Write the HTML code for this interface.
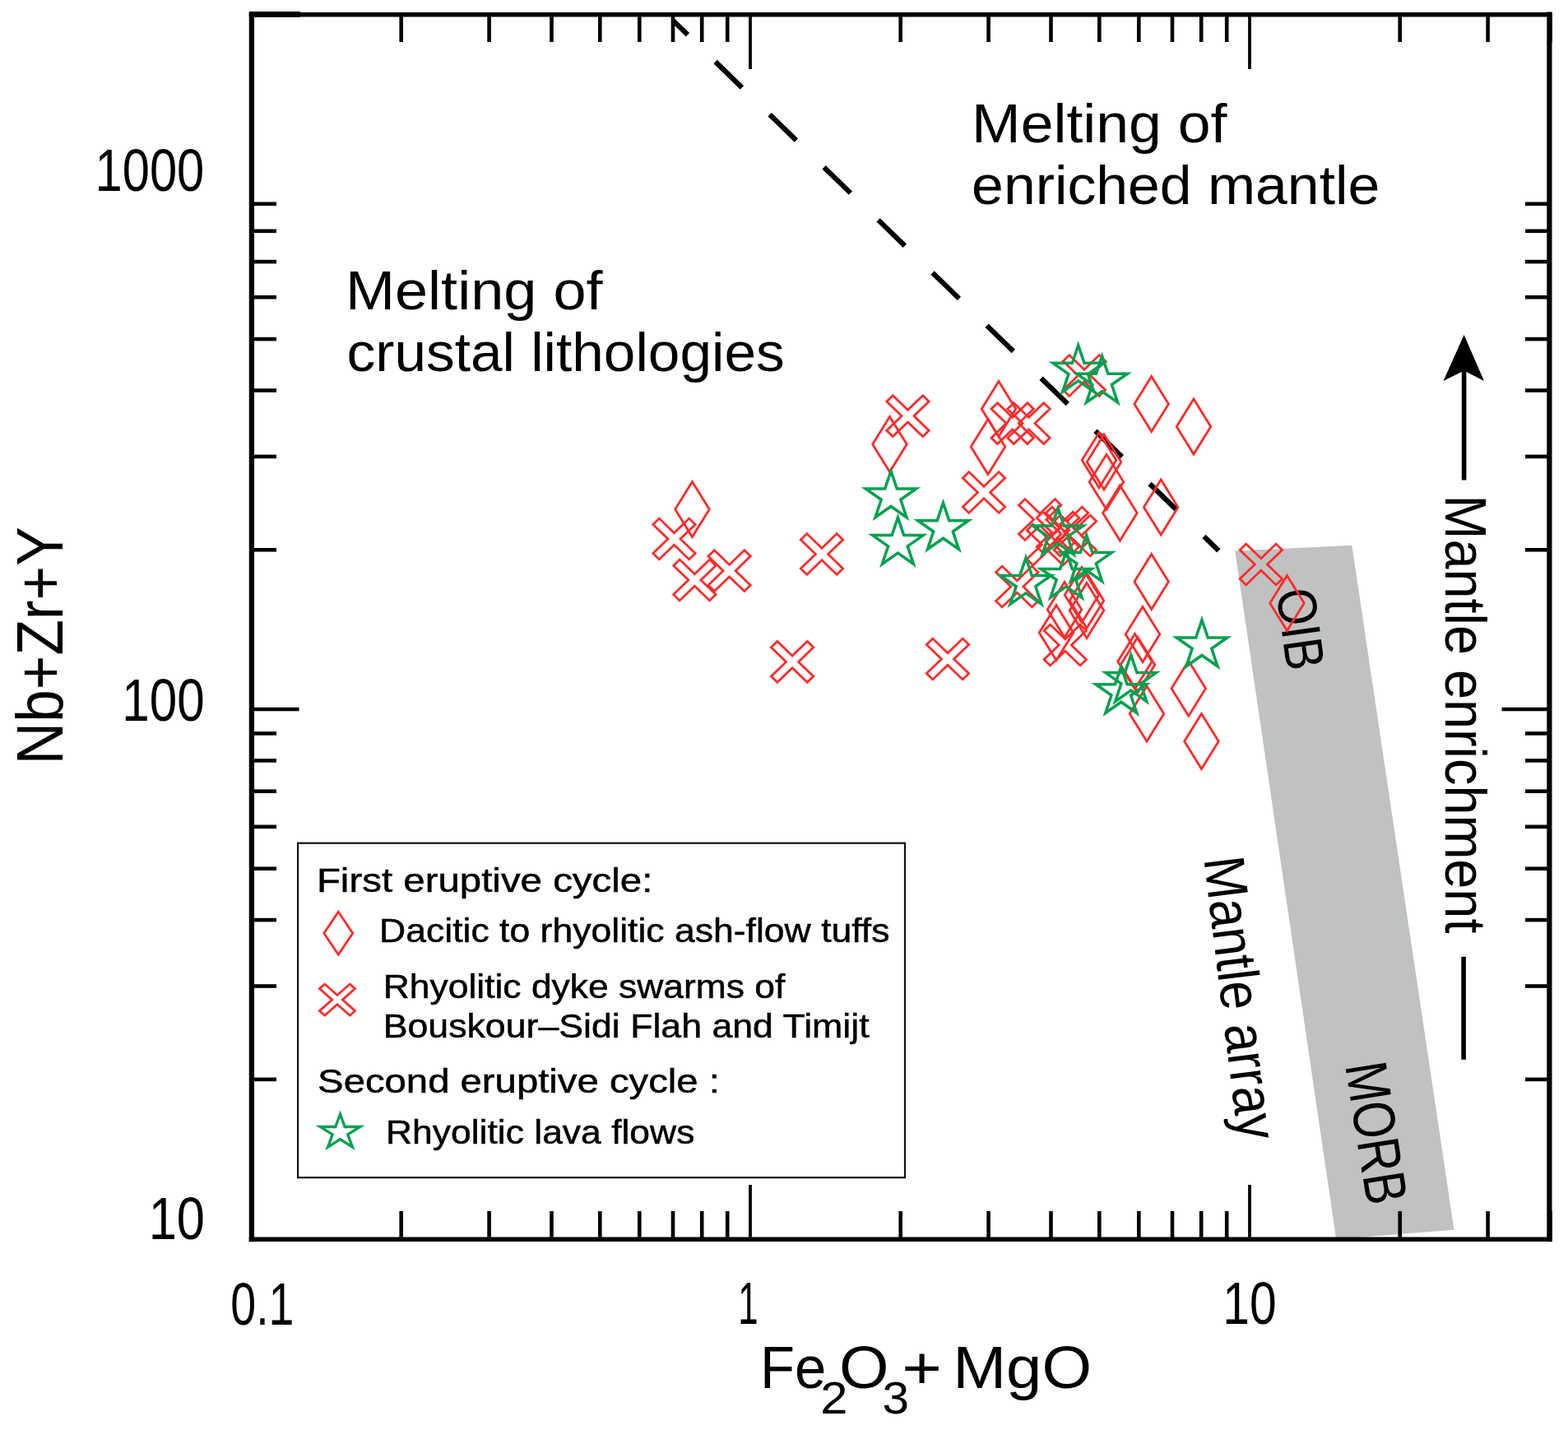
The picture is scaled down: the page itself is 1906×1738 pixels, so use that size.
<!DOCTYPE html><html><head><meta charset="utf-8"><title>Nb+Zr+Y vs Fe2O3+MgO</title><style>html,body{margin:0;padding:0;background:#fff;overflow:hidden}svg{display:block}text{font-family:"Liberation Sans",Arial,sans-serif;fill:#000}</style></head><body>
<svg width="1906" height="1738" viewBox="0 0 1906 1738">
<rect width="1906" height="1738" fill="#fff"/>
<polygon points="1501.2,669.5 1643.3,662.8 1767.5,1494.8 1624.2,1506" fill="#bfc2c1"/>
<text x="1181.1" y="172.8" font-size="67" textLength="310.4" lengthAdjust="spacingAndGlyphs">Melting of</text>
<text x="1181.1" y="247.8" font-size="67" textLength="496.2" lengthAdjust="spacingAndGlyphs">enriched mantle</text>
<text x="419.9" y="376.4" font-size="67" textLength="312.7" lengthAdjust="spacingAndGlyphs">Melting of</text>
<text x="421.6" y="451" font-size="67" textLength="532.1" lengthAdjust="spacingAndGlyphs">crustal lithologies</text>
<g transform="translate(1756.8,0) rotate(90)"><text x="601.6" y="0" font-size="70" textLength="532.8" lengthAdjust="spacingAndGlyphs">Mantle enrichment</text></g>
<g transform="translate(1463.8,1049) rotate(83)"><text x="-5.3" y="0" font-size="70" textLength="346.4" lengthAdjust="spacingAndGlyphs">Mantle array</text></g>
<g transform="translate(1551.5,721) rotate(82)"><text x="-2.6" y="0" font-size="67" textLength="99.5" lengthAdjust="spacingAndGlyphs">OIB</text></g>
<g transform="translate(1635.7,1299.5) rotate(81)"><text x="-4.8" y="0" font-size="72" textLength="174.1" lengthAdjust="spacingAndGlyphs">MORB</text></g>
<line x1="818.0" y1="24.9" x2="1481.4" y2="669.4" stroke="#000" stroke-width="6.2" stroke-dasharray="45 47" stroke-dashoffset="20"/>
<polygon points="841.5,585.5 862.3,619.0 841.5,652.5 820.7,619.0" fill="none" stroke="#ff2b2b" stroke-width="2.8"/>
<polygon points="1081.5,506.5 1102.3,540.0 1081.5,573.5 1060.7,540.0" fill="none" stroke="#ff2b2b" stroke-width="2.8"/>
<polygon points="1214.0,463.5 1234.8,497.0 1214.0,530.5 1193.2,497.0" fill="none" stroke="#ff2b2b" stroke-width="2.8"/>
<polygon points="1201.0,509.5 1221.8,543.0 1201.0,576.5 1180.2,543.0" fill="none" stroke="#ff2b2b" stroke-width="2.8"/>
<polygon points="1399.7,457.5 1420.5,491.0 1399.7,524.5 1378.9,491.0" fill="none" stroke="#ff2b2b" stroke-width="2.8"/>
<polygon points="1451.0,485.0 1471.8,518.5 1451.0,552.0 1430.2,518.5" fill="none" stroke="#ff2b2b" stroke-width="2.8"/>
<polygon points="1336.0,525.8 1356.8,559.3 1336.0,592.8 1315.2,559.3" fill="none" stroke="#ff2b2b" stroke-width="2.8"/>
<polygon points="1342.0,528.0 1362.8,561.5 1342.0,595.0 1321.2,561.5" fill="none" stroke="#ff2b2b" stroke-width="2.8"/>
<polygon points="1345.0,552.3 1365.8,585.8 1345.0,619.3 1324.2,585.8" fill="none" stroke="#ff2b2b" stroke-width="2.8"/>
<polygon points="1361.4,590.0 1382.2,623.5 1361.4,657.0 1340.6,623.5" fill="none" stroke="#ff2b2b" stroke-width="2.8"/>
<polygon points="1411.2,583.0 1432.0,616.5 1411.2,650.0 1390.4,616.5" fill="none" stroke="#ff2b2b" stroke-width="2.8"/>
<polygon points="1564.5,699.5 1585.3,733.0 1564.5,766.5 1543.7,733.0" fill="none" stroke="#ff2b2b" stroke-width="2.8"/>
<polygon points="1284.0,735.5 1304.8,769.0 1284.0,802.5 1263.2,769.0" fill="none" stroke="#ff2b2b" stroke-width="2.8"/>
<polygon points="1294.0,707.5 1314.8,741.0 1294.0,774.5 1273.2,741.0" fill="none" stroke="#ff2b2b" stroke-width="2.8"/>
<polygon points="1315.0,689.5 1335.8,723.0 1315.0,756.5 1294.2,723.0" fill="none" stroke="#ff2b2b" stroke-width="2.8"/>
<polygon points="1321.0,696.5 1341.8,730.0 1321.0,763.5 1300.2,730.0" fill="none" stroke="#ff2b2b" stroke-width="2.8"/>
<polygon points="1321.0,708.5 1341.8,742.0 1321.0,775.5 1300.2,742.0" fill="none" stroke="#ff2b2b" stroke-width="2.8"/>
<polygon points="1399.7,673.5 1420.5,707.0 1399.7,740.5 1378.9,707.0" fill="none" stroke="#ff2b2b" stroke-width="2.8"/>
<polygon points="1389.0,737.5 1409.8,771.0 1389.0,804.5 1368.2,771.0" fill="none" stroke="#ff2b2b" stroke-width="2.8"/>
<polygon points="1379.5,770.5 1400.3,804.0 1379.5,837.5 1358.7,804.0" fill="none" stroke="#ff2b2b" stroke-width="2.8"/>
<polygon points="1383.0,774.5 1403.8,808.0 1383.0,841.5 1362.2,808.0" fill="none" stroke="#ff2b2b" stroke-width="2.8"/>
<polygon points="1394.0,834.0 1414.8,867.5 1394.0,901.0 1373.2,867.5" fill="none" stroke="#ff2b2b" stroke-width="2.8"/>
<polygon points="1444.8,803.2 1465.6,836.7 1444.8,870.2 1424.0,836.7" fill="none" stroke="#ff2b2b" stroke-width="2.8"/>
<polygon points="1460.5,867.5 1481.3,901.0 1460.5,934.5 1439.7,901.0" fill="none" stroke="#ff2b2b" stroke-width="2.8"/>
<polygon points="819.5,662.3 837.7,679.9 845.2,672.6 827.0,655.0 845.2,637.4 837.7,630.1 819.5,647.7 801.3,630.1 793.8,637.4 812.0,655.0 793.8,672.6 801.3,679.9" fill="none" stroke="#ff2b2b" stroke-width="2.8"/>
<polygon points="844.4,712.3 862.6,729.9 870.1,722.6 851.9,705.0 870.1,687.4 862.6,680.1 844.4,697.7 826.2,680.1 818.7,687.4 836.9,705.0 818.7,722.6 826.2,729.9" fill="none" stroke="#ff2b2b" stroke-width="2.8"/>
<polygon points="886.6,701.0 904.8,718.6 912.3,711.3 894.1,693.7 912.3,676.1 904.8,668.8 886.6,686.4 868.4,668.8 860.9,676.1 879.1,693.7 860.9,711.3 868.4,718.6" fill="none" stroke="#ff2b2b" stroke-width="2.8"/>
<polygon points="999.0,680.8 1017.2,698.4 1024.7,691.1 1006.5,673.5 1024.7,655.9 1017.2,648.6 999.0,666.2 980.8,648.6 973.3,655.9 991.5,673.5 973.3,691.1 980.8,698.4" fill="none" stroke="#ff2b2b" stroke-width="2.8"/>
<polygon points="963.1,811.7 981.3,829.3 988.8,822.0 970.6,804.4 988.8,786.8 981.3,779.5 963.1,797.1 944.9,779.5 937.4,786.8 955.6,804.4 937.4,822.0 944.9,829.3" fill="none" stroke="#ff2b2b" stroke-width="2.8"/>
<polygon points="1152.0,808.3 1170.2,825.9 1177.7,818.6 1159.5,801.0 1177.7,783.4 1170.2,776.1 1152.0,793.7 1133.8,776.1 1126.3,783.4 1144.5,801.0 1126.3,818.6 1133.8,825.9" fill="none" stroke="#ff2b2b" stroke-width="2.8"/>
<polygon points="1103.5,512.9 1121.7,530.5 1129.2,523.2 1111.0,505.6 1129.2,488.0 1121.7,480.7 1103.5,498.3 1085.3,480.7 1077.8,488.0 1096.0,505.6 1077.8,523.2 1085.3,530.5" fill="none" stroke="#ff2b2b" stroke-width="2.8"/>
<polygon points="1230.7,521.9 1248.9,539.5 1256.4,532.2 1238.2,514.6 1256.4,497.0 1248.9,489.7 1230.7,507.3 1212.5,489.7 1205.0,497.0 1223.2,514.6 1205.0,532.2 1212.5,539.5" fill="none" stroke="#ff2b2b" stroke-width="2.8"/>
<polygon points="1250.5,521.9 1268.7,539.5 1276.2,532.2 1258.0,514.6 1276.2,497.0 1268.7,489.7 1250.5,507.3 1232.3,489.7 1224.8,497.0 1243.0,514.6 1224.8,532.2 1232.3,539.5" fill="none" stroke="#ff2b2b" stroke-width="2.8"/>
<polygon points="1196.0,605.8 1214.2,623.4 1221.7,616.1 1203.5,598.5 1221.7,580.9 1214.2,573.6 1196.0,591.2 1177.8,573.6 1170.3,580.9 1188.5,598.5 1170.3,616.1 1177.8,623.4" fill="none" stroke="#ff2b2b" stroke-width="2.8"/>
<polygon points="1318.0,463.8 1336.2,481.4 1343.7,474.1 1325.5,456.5 1343.7,438.9 1336.2,431.6 1318.0,449.2 1299.8,431.6 1292.3,438.9 1310.5,456.5 1292.3,474.1 1299.8,481.4" fill="none" stroke="#ff2b2b" stroke-width="2.8"/>
<polygon points="1532.9,693.3 1551.1,710.9 1558.6,703.6 1540.4,686.0 1558.6,668.4 1551.1,661.1 1532.9,678.7 1514.7,661.1 1507.2,668.4 1525.4,686.0 1507.2,703.6 1514.7,710.9" fill="none" stroke="#ff2b2b" stroke-width="2.8"/>
<polygon points="1264.2,638.8 1282.4,656.4 1289.9,649.1 1271.7,631.5 1289.9,613.9 1282.4,606.6 1264.2,624.2 1246.0,606.6 1238.5,613.9 1256.7,631.5 1238.5,649.1 1246.0,656.4" fill="none" stroke="#ff2b2b" stroke-width="2.8"/>
<polygon points="1297.0,648.3 1315.2,665.9 1322.7,658.6 1304.5,641.0 1322.7,623.4 1315.2,616.1 1297.0,633.7 1278.8,616.1 1271.3,623.4 1289.5,641.0 1271.3,658.6 1278.8,665.9" fill="none" stroke="#ff2b2b" stroke-width="2.8"/>
<polygon points="1307.0,658.3 1325.2,675.9 1332.7,668.6 1314.5,651.0 1332.7,633.4 1325.2,626.1 1307.0,643.7 1288.8,626.1 1281.3,633.4 1299.5,651.0 1281.3,668.6 1288.8,675.9" fill="none" stroke="#ff2b2b" stroke-width="2.8"/>
<polygon points="1286.0,654.3 1304.2,671.9 1311.7,664.6 1293.5,647.0 1311.7,629.4 1304.2,622.1 1286.0,639.7 1267.8,622.1 1260.3,629.4 1278.5,647.0 1260.3,664.6 1267.8,671.9" fill="none" stroke="#ff2b2b" stroke-width="2.8"/>
<polygon points="1274.0,669.3 1292.2,686.9 1299.7,679.6 1281.5,662.0 1299.7,644.4 1292.2,637.1 1274.0,654.7 1255.8,637.1 1248.3,644.4 1266.5,662.0 1248.3,679.6 1255.8,686.9" fill="none" stroke="#ff2b2b" stroke-width="2.8"/>
<polygon points="1236.3,720.3 1254.5,737.9 1262.0,730.6 1243.8,713.0 1262.0,695.4 1254.5,688.1 1236.3,705.7 1218.1,688.1 1210.6,695.4 1228.8,713.0 1210.6,730.6 1218.1,737.9" fill="none" stroke="#ff2b2b" stroke-width="2.8"/>
<polygon points="1294.8,791.3 1313.0,808.9 1320.5,801.6 1302.3,784.0 1320.5,766.4 1313.0,759.1 1294.8,776.7 1276.6,759.1 1269.1,766.4 1287.3,784.0 1269.1,801.6 1276.6,808.9" fill="none" stroke="#ff2b2b" stroke-width="2.8"/>
<polygon points="1083.0,572.5 1090.3,594.0 1113.8,594.0 1094.8,607.3 1102.0,628.8 1083.0,615.5 1064.0,628.8 1071.2,607.3 1052.2,594.0 1075.7,594.0" fill="none" stroke="#00a050" stroke-width="3.5" stroke-miterlimit="10"/>
<polygon points="1091.4,629.1 1098.7,650.6 1122.2,650.6 1103.2,663.9 1110.4,685.4 1091.4,672.1 1072.4,685.4 1079.6,663.9 1060.6,650.6 1084.1,650.6" fill="none" stroke="#00a050" stroke-width="3.5" stroke-miterlimit="10"/>
<polygon points="1146.5,611.2 1153.8,632.7 1177.3,632.7 1158.3,646.0 1165.5,667.5 1146.5,654.2 1127.5,667.5 1134.7,646.0 1115.7,632.7 1139.2,632.7" fill="none" stroke="#00a050" stroke-width="3.5" stroke-miterlimit="10"/>
<polygon points="1310.7,419.8 1318.0,441.3 1341.5,441.3 1322.5,454.6 1329.7,476.1 1310.7,462.8 1291.7,476.1 1298.9,454.6 1279.9,441.3 1303.4,441.3" fill="none" stroke="#00a050" stroke-width="3.5" stroke-miterlimit="10"/>
<polygon points="1339.6,432.7 1346.9,454.2 1370.4,454.2 1351.4,467.5 1358.6,489.0 1339.6,475.7 1320.6,489.0 1327.8,467.5 1308.8,454.2 1332.3,454.2" fill="none" stroke="#00a050" stroke-width="3.5" stroke-miterlimit="10"/>
<polygon points="1286.0,617.4 1293.3,638.9 1316.8,638.9 1297.8,652.2 1305.0,673.7 1286.0,660.4 1267.0,673.7 1274.2,652.2 1255.2,638.9 1278.7,638.9" fill="none" stroke="#00a050" stroke-width="3.5" stroke-miterlimit="10"/>
<polygon points="1320.6,650.1 1327.9,671.6 1351.4,671.6 1332.4,684.9 1339.6,706.4 1320.6,693.1 1301.6,706.4 1308.8,684.9 1289.8,671.6 1313.3,671.6" fill="none" stroke="#00a050" stroke-width="3.5" stroke-miterlimit="10"/>
<polygon points="1247.0,677.9 1254.3,699.4 1277.8,699.4 1258.8,712.7 1266.0,734.2 1247.0,720.9 1228.0,734.2 1235.2,712.7 1216.2,699.4 1239.7,699.4" fill="none" stroke="#00a050" stroke-width="3.5" stroke-miterlimit="10"/>
<polygon points="1296.0,669.9 1303.3,691.4 1326.8,691.4 1307.8,704.7 1315.0,726.2 1296.0,712.9 1277.0,726.2 1284.2,704.7 1265.2,691.4 1288.7,691.4" fill="none" stroke="#00a050" stroke-width="3.5" stroke-miterlimit="10"/>
<polygon points="1461.0,753.5 1468.3,775.0 1491.8,775.0 1472.8,788.3 1480.0,809.8 1461.0,796.5 1442.0,809.8 1449.2,788.3 1430.2,775.0 1453.7,775.0" fill="none" stroke="#00a050" stroke-width="3.5" stroke-miterlimit="10"/>
<polygon points="1374.7,796.1 1382.0,817.6 1405.5,817.6 1386.5,830.9 1393.7,852.4 1374.7,839.1 1355.7,852.4 1362.9,830.9 1343.9,817.6 1367.4,817.6" fill="none" stroke="#00a050" stroke-width="3.5" stroke-miterlimit="10"/>
<polygon points="1362.8,810.2 1370.1,831.7 1393.6,831.7 1374.6,845.0 1381.8,866.5 1362.8,853.2 1343.8,866.5 1351.0,845.0 1332.0,831.7 1355.5,831.7" fill="none" stroke="#00a050" stroke-width="3.5" stroke-miterlimit="10"/>
<g stroke="#000" fill="none">
<line x1="302.8" y1="17.8" x2="1886.6" y2="17.8" stroke-width="5.6"/>
<line x1="305.9" y1="14.5" x2="305.9" y2="1509.3" stroke-width="6.3"/>
<line x1="1883.4" y1="14.5" x2="1883.4" y2="1509.3" stroke-width="6.2"/>
<line x1="302.8" y1="1506.3" x2="1886.6" y2="1506.3" stroke-width="5.4"/>
<line x1="303" y1="17.6" x2="365" y2="17.6" stroke-width="7"/>
<line x1="487.7" y1="17.6" x2="487.7" y2="51" stroke-width="4.6"/>
<line x1="487.7" y1="1506.4" x2="487.7" y2="1472" stroke-width="4.6"/>
<line x1="594.6" y1="17.6" x2="594.6" y2="51" stroke-width="4.6"/>
<line x1="594.6" y1="1506.4" x2="594.6" y2="1472" stroke-width="4.6"/>
<line x1="670.5" y1="17.6" x2="670.5" y2="51" stroke-width="4.6"/>
<line x1="670.5" y1="1506.4" x2="670.5" y2="1472" stroke-width="4.6"/>
<line x1="729.3" y1="17.6" x2="729.3" y2="51" stroke-width="4.6"/>
<line x1="729.3" y1="1506.4" x2="729.3" y2="1472" stroke-width="4.6"/>
<line x1="777.3" y1="17.6" x2="777.3" y2="51" stroke-width="4.6"/>
<line x1="777.3" y1="1506.4" x2="777.3" y2="1472" stroke-width="4.6"/>
<line x1="818.0" y1="17.6" x2="818.0" y2="51" stroke-width="4.6"/>
<line x1="818.0" y1="1506.4" x2="818.0" y2="1472" stroke-width="4.6"/>
<line x1="853.2" y1="17.6" x2="853.2" y2="51" stroke-width="4.6"/>
<line x1="853.2" y1="1506.4" x2="853.2" y2="1472" stroke-width="4.6"/>
<line x1="884.2" y1="17.6" x2="884.2" y2="51" stroke-width="4.6"/>
<line x1="884.2" y1="1506.4" x2="884.2" y2="1472" stroke-width="4.6"/>
<line x1="912.0" y1="17.6" x2="912.0" y2="84" stroke-width="3.8"/>
<line x1="912.0" y1="1506.4" x2="912.0" y2="1440" stroke-width="3.8"/>
<line x1="1094.7" y1="17.6" x2="1094.7" y2="51" stroke-width="4.6"/>
<line x1="1094.7" y1="1506.4" x2="1094.7" y2="1472" stroke-width="4.6"/>
<line x1="1201.6" y1="17.6" x2="1201.6" y2="51" stroke-width="4.6"/>
<line x1="1201.6" y1="1506.4" x2="1201.6" y2="1472" stroke-width="4.6"/>
<line x1="1277.5" y1="17.6" x2="1277.5" y2="51" stroke-width="4.6"/>
<line x1="1277.5" y1="1506.4" x2="1277.5" y2="1472" stroke-width="4.6"/>
<line x1="1336.3" y1="17.6" x2="1336.3" y2="51" stroke-width="4.6"/>
<line x1="1336.3" y1="1506.4" x2="1336.3" y2="1472" stroke-width="4.6"/>
<line x1="1384.3" y1="17.6" x2="1384.3" y2="51" stroke-width="4.6"/>
<line x1="1384.3" y1="1506.4" x2="1384.3" y2="1472" stroke-width="4.6"/>
<line x1="1425.0" y1="17.6" x2="1425.0" y2="51" stroke-width="4.6"/>
<line x1="1425.0" y1="1506.4" x2="1425.0" y2="1472" stroke-width="4.6"/>
<line x1="1460.2" y1="17.6" x2="1460.2" y2="51" stroke-width="4.6"/>
<line x1="1460.2" y1="1506.4" x2="1460.2" y2="1472" stroke-width="4.6"/>
<line x1="1491.2" y1="17.6" x2="1491.2" y2="51" stroke-width="4.6"/>
<line x1="1491.2" y1="1506.4" x2="1491.2" y2="1472" stroke-width="4.6"/>
<line x1="1519.0" y1="17.6" x2="1519.0" y2="84" stroke-width="3.8"/>
<line x1="1519.0" y1="1506.4" x2="1519.0" y2="1440" stroke-width="3.8"/>
<line x1="1701.7" y1="17.6" x2="1701.7" y2="51" stroke-width="4.6"/>
<line x1="1701.7" y1="1506.4" x2="1701.7" y2="1472" stroke-width="4.6"/>
<line x1="1808.6" y1="17.6" x2="1808.6" y2="51" stroke-width="4.6"/>
<line x1="1808.6" y1="1506.4" x2="1808.6" y2="1472" stroke-width="4.6"/>
<line x1="1884.5" y1="17.6" x2="1884.5" y2="51" stroke-width="4.6"/>
<line x1="1884.5" y1="1506.4" x2="1884.5" y2="1472" stroke-width="4.6"/>
<line x1="306" y1="1311.9" x2="336" y2="1311.9" stroke-width="4.6"/>
<line x1="1883.4" y1="1311.9" x2="1854" y2="1311.9" stroke-width="4.6"/>
<line x1="306" y1="1198.5" x2="336" y2="1198.5" stroke-width="4.6"/>
<line x1="1883.4" y1="1198.5" x2="1854" y2="1198.5" stroke-width="4.6"/>
<line x1="306" y1="1118.1" x2="336" y2="1118.1" stroke-width="4.6"/>
<line x1="1883.4" y1="1118.1" x2="1854" y2="1118.1" stroke-width="4.6"/>
<line x1="306" y1="1055.7" x2="336" y2="1055.7" stroke-width="4.6"/>
<line x1="1883.4" y1="1055.7" x2="1854" y2="1055.7" stroke-width="4.6"/>
<line x1="306" y1="1004.8" x2="336" y2="1004.8" stroke-width="4.6"/>
<line x1="1883.4" y1="1004.8" x2="1854" y2="1004.8" stroke-width="4.6"/>
<line x1="306" y1="961.7" x2="336" y2="961.7" stroke-width="4.6"/>
<line x1="1883.4" y1="961.7" x2="1854" y2="961.7" stroke-width="4.6"/>
<line x1="306" y1="924.4" x2="336" y2="924.4" stroke-width="4.6"/>
<line x1="1883.4" y1="924.4" x2="1854" y2="924.4" stroke-width="4.6"/>
<line x1="306" y1="891.4" x2="336" y2="891.4" stroke-width="4.6"/>
<line x1="1883.4" y1="891.4" x2="1854" y2="891.4" stroke-width="4.6"/>
<line x1="306" y1="862.0" x2="363.5" y2="862.0" stroke-width="4.3"/>
<line x1="1883.4" y1="862.0" x2="1825.6" y2="862.0" stroke-width="4.3"/>
<line x1="306" y1="668.3" x2="336" y2="668.3" stroke-width="4.6"/>
<line x1="1883.4" y1="668.3" x2="1854" y2="668.3" stroke-width="4.6"/>
<line x1="306" y1="554.9" x2="336" y2="554.9" stroke-width="4.6"/>
<line x1="1883.4" y1="554.9" x2="1854" y2="554.9" stroke-width="4.6"/>
<line x1="306" y1="474.5" x2="336" y2="474.5" stroke-width="4.6"/>
<line x1="1883.4" y1="474.5" x2="1854" y2="474.5" stroke-width="4.6"/>
<line x1="306" y1="412.1" x2="336" y2="412.1" stroke-width="4.6"/>
<line x1="1883.4" y1="412.1" x2="1854" y2="412.1" stroke-width="4.6"/>
<line x1="306" y1="361.2" x2="336" y2="361.2" stroke-width="4.6"/>
<line x1="1883.4" y1="361.2" x2="1854" y2="361.2" stroke-width="4.6"/>
<line x1="306" y1="318.1" x2="336" y2="318.1" stroke-width="4.6"/>
<line x1="1883.4" y1="318.1" x2="1854" y2="318.1" stroke-width="4.6"/>
<line x1="306" y1="280.8" x2="336" y2="280.8" stroke-width="4.6"/>
<line x1="1883.4" y1="280.8" x2="1854" y2="280.8" stroke-width="4.6"/>
<line x1="306" y1="247.8" x2="336" y2="247.8" stroke-width="4.6"/>
<line x1="1883.4" y1="247.8" x2="1854" y2="247.8" stroke-width="4.6"/>
</g>
<text x="115.6" y="231.7" font-size="72" textLength="132.7" lengthAdjust="spacingAndGlyphs">1000</text>
<text x="148.3" y="876.2" font-size="72" textLength="100.3" lengthAdjust="spacingAndGlyphs">100</text>
<text x="180.7" y="1506.4" font-size="72" textLength="68.3" lengthAdjust="spacingAndGlyphs">10</text>
<text x="280.3" y="1609.6" font-size="72" textLength="77.1" lengthAdjust="spacingAndGlyphs">0.1</text>
<text x="897.2" y="1609" font-size="72" textLength="24.4" lengthAdjust="spacingAndGlyphs">1</text>
<text x="1486.3" y="1609" font-size="72" textLength="65.3" lengthAdjust="spacingAndGlyphs">10</text>
<g transform="translate(75.6,0) rotate(-90)"><text x="-929.2" y="0" font-size="79" textLength="288.8" lengthAdjust="spacingAndGlyphs">Nb+Zr+Y</text></g>
<text x="923.9" y="1687.2" font-size="73" textLength="80.3" lengthAdjust="spacingAndGlyphs">Fe</text>
<text x="997.2" y="1718" font-size="55" textLength="33.2" lengthAdjust="spacingAndGlyphs">2</text>
<text x="1020.0" y="1687.2" font-size="73" textLength="60.5" lengthAdjust="spacingAndGlyphs">O</text>
<text x="1072.5" y="1718" font-size="55" textLength="32.5" lengthAdjust="spacingAndGlyphs">3</text>
<text x="1096.2" y="1687.2" font-size="73" textLength="48.7" lengthAdjust="spacingAndGlyphs">+</text>
<text x="1158.2" y="1687.2" font-size="73" textLength="168.8" lengthAdjust="spacingAndGlyphs">MgO</text>
<line x1="1779.6" y1="440" x2="1779.6" y2="583.4" stroke="#000" stroke-width="5.6"/>
<polygon points="1779.6,406.9 1804,463.1 1779.6,450.4 1754.5,463.1" fill="#000"/>
<line x1="1779.1" y1="1162.8" x2="1779.1" y2="1287.8" stroke="#000" stroke-width="5.6"/>
<rect x="362.1" y="1024.7" width="737.9" height="406.5" fill="none" stroke="#111" stroke-width="2.2"/>
<text x="384.9" y="1083.7" font-size="41" textLength="408.5" lengthAdjust="spacingAndGlyphs" stroke="#000" stroke-width="0.5">First eruptive cycle:</text>
<text x="461.1" y="1145.2" font-size="41" textLength="620.4" lengthAdjust="spacingAndGlyphs" stroke="#000" stroke-width="0.5">Dacitic to rhyolitic ash-flow tuffs</text>
<text x="465.8" y="1212.6" font-size="41" textLength="488.5" lengthAdjust="spacingAndGlyphs" stroke="#000" stroke-width="0.5">Rhyolitic dyke swarms of</text>
<text x="465.7" y="1260.8" font-size="41" textLength="590.9" lengthAdjust="spacingAndGlyphs" stroke="#000" stroke-width="0.5">Bouskour–Sidi Flah and Timijt</text>
<text x="386.1" y="1328.4" font-size="41" textLength="488.8" lengthAdjust="spacingAndGlyphs" stroke="#000" stroke-width="0.5">Second eruptive cycle :</text>
<text x="469.0" y="1389.8" font-size="41" textLength="375.4" lengthAdjust="spacingAndGlyphs" stroke="#000" stroke-width="0.5">Rhyolitic lava flows</text>
<polygon points="411.3,1108.2 428.8,1134.2 411.3,1160.2 393.8,1134.2" fill="none" stroke="#ff2b2b" stroke-width="2.8"/>
<polygon points="410.0,1220.7 425.3,1234.2 431.6,1228.6 416.3,1215.1 431.6,1201.6 425.3,1196.0 410.0,1209.5 394.7,1196.0 388.4,1201.6 403.7,1215.1 388.4,1228.6 394.7,1234.2" fill="none" stroke="#ff2b2b" stroke-width="2.8"/>
<polygon points="413.5,1354.2 419.2,1369.5 437.8,1369.5 422.8,1378.9 428.5,1394.2 413.5,1384.7 398.5,1394.2 404.2,1378.9 389.2,1369.5 407.8,1369.5" fill="none" stroke="#00a050" stroke-width="3.3" stroke-miterlimit="10"/>
</svg></body></html>
